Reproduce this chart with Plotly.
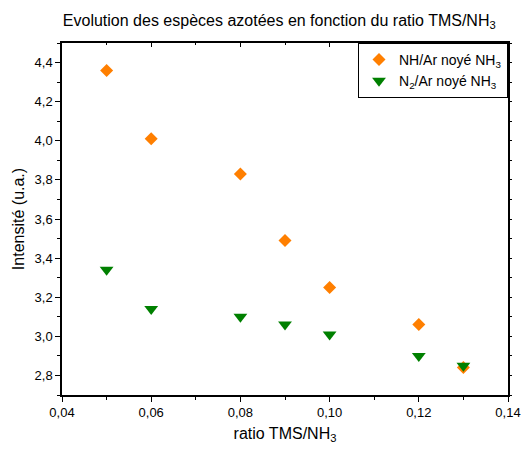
import plotly.graph_objects as go

# data
ratio = [0.05, 0.06, 0.08, 0.09, 0.10, 0.12, 0.13]
nh_ar = [4.36, 4.01, 3.83, 3.49, 3.25, 3.06, 2.84]
n2_ar = [3.34, 3.14, 3.10, 3.06, 3.01, 2.90, 2.85]

fig = go.Figure()

fig.add_trace(go.Scatter(x=ratio, y=nh_ar, mode='markers', name='NH/Ar noyé NH<sub>3</sub>',
                         marker=dict(symbol='diamond', size=10, color='#FF7F00')))
fig.add_trace(go.Scatter(x=ratio, y=n2_ar, mode='markers', name='N<sub>2</sub>/Ar noyé NH<sub>3</sub>',
                         marker=dict(symbol='triangle-down', size=12, color='#008000')))
# invisible trace so the top/right axes get drawn
fig.add_trace(go.Scatter(x=[0.04], y=[2.7], xaxis='x2', yaxis='y2', mode='markers',
                         marker=dict(opacity=0), showlegend=False, hoverinfo='skip'))

axis_common = dict(showgrid=False, zeroline=False, showline=True, linecolor='black', linewidth=1.5,
                   tickcolor='black', tickwidth=1, automargin=False,
                   tickfont=dict(family='Liberation Sans, Arial', size=13, color='black'))

fig.update_layout(
    width=522, height=450,
    margin=dict(l=62, r=14, t=43, b=55),
    plot_bgcolor='white', paper_bgcolor='white',
    separators=', ',
    font=dict(family='Liberation Sans, Arial', size=13, color='black'),
    title=dict(text='Evolution des espèces azotées en fonction du ratio TMS/NH<sub>3</sub>',
               x=0.535, xanchor='center', y=0.955, yanchor='middle',
               font=dict(size=16, color='black'), automargin=False),
    xaxis=dict(range=[0.04, 0.14], dtick=0.02, tickformat='.2f', ticks='outside', ticklen=5,
               minor=dict(dtick=0.01, ticks='outside', ticklen=3, tickcolor='black'),
               title=dict(text='ratio TMS/NH<sub>3</sub>', font=dict(size=16), standoff=8),
               **axis_common),
    yaxis=dict(range=[2.7, 4.5], dtick=0.2, tickformat='.1f', ticks='outside', ticklen=5,
               minor=dict(dtick=0.1, ticks='outside', ticklen=3, tickcolor='black'),
               title=dict(text='Intensité (u.a.)', font=dict(size=16), standoff=6),
               **axis_common),
    xaxis2=dict(range=[0.04, 0.14], dtick=0.02, overlaying='x', side='top', anchor='y2',
                ticks='inside', ticklen=4, showticklabels=False,
                minor=dict(dtick=0.01, ticks='inside', ticklen=2, tickcolor='black'),
                **axis_common),
    yaxis2=dict(range=[2.7, 4.5], dtick=0.2, overlaying='y', side='right', anchor='x2',
                ticks='outside', ticklen=2, showticklabels=False,
                minor=dict(dtick=0.1, ticks='outside', ticklen=2, tickcolor='black'),
                **axis_common),
    legend=dict(x=1, xanchor='right', y=1, yanchor='top', bgcolor='white',
                bordercolor='black', borderwidth=1,
                font=dict(size=14), tracegroupgap=2),
)

# drop the default body margin so the figure fills the window exactly
fig.write_html("out.html", config={'displayModeBar': False},
               post_script="document.body.style.margin='0';document.body.style.overflow='hidden';")
